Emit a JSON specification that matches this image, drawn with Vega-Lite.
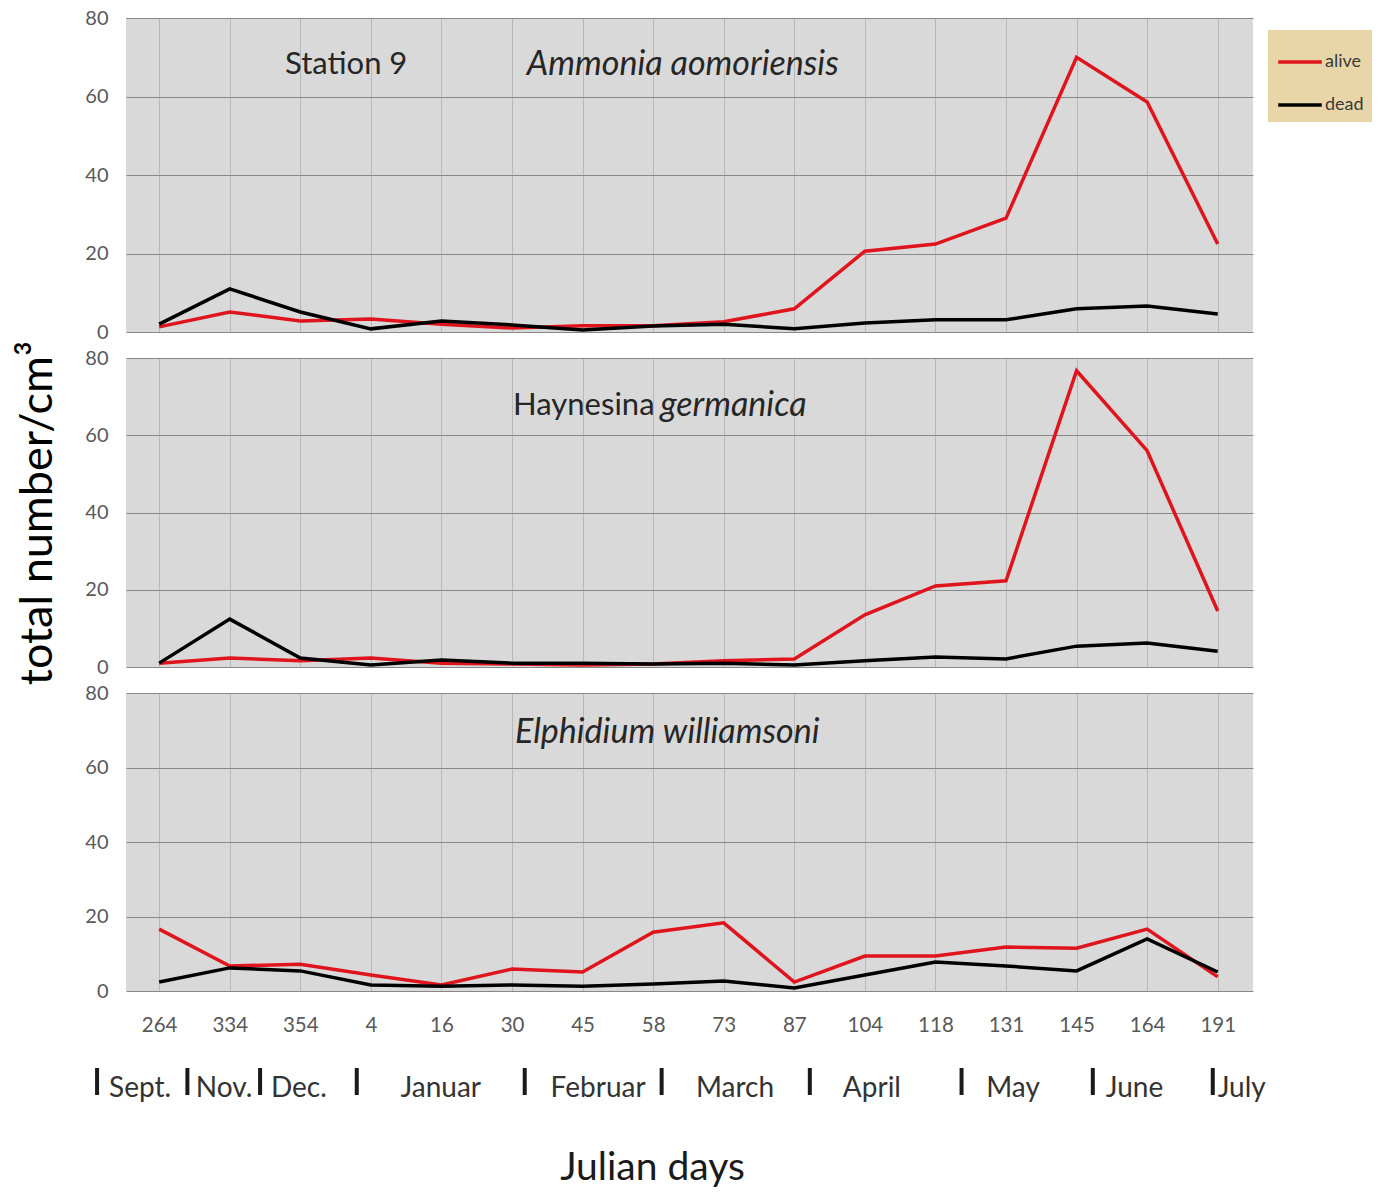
{
  "$schema": "https://vega.github.io/schema/vega-lite/v6.json",
  "background": "white",
  "padding": {"left": 15, "top": 8, "right": 5, "bottom": 5},
  "config": {
    "font": "Lato",
    "view": {"stroke": null},
    "axis": {"labelFont": "Lato", "titleFont": "Lato"}
  },
  "datasets": {
    "counts": [
      {"panel": "A", "i": 0, "day": "264", "status": "alive", "n": 1.3},
      {"panel": "A", "i": 1, "day": "334", "status": "alive", "n": 5.1},
      {"panel": "A", "i": 2, "day": "354", "status": "alive", "n": 2.8},
      {"panel": "A", "i": 3, "day": "4", "status": "alive", "n": 3.3},
      {"panel": "A", "i": 4, "day": "16", "status": "alive", "n": 2.0},
      {"panel": "A", "i": 5, "day": "30", "status": "alive", "n": 1.0},
      {"panel": "A", "i": 6, "day": "45", "status": "alive", "n": 1.6},
      {"panel": "A", "i": 7, "day": "58", "status": "alive", "n": 1.6},
      {"panel": "A", "i": 8, "day": "73", "status": "alive", "n": 2.6},
      {"panel": "A", "i": 9, "day": "87", "status": "alive", "n": 5.9},
      {"panel": "A", "i": 10, "day": "104", "status": "alive", "n": 20.6},
      {"panel": "A", "i": 11, "day": "118", "status": "alive", "n": 22.4},
      {"panel": "A", "i": 12, "day": "131", "status": "alive", "n": 29.0},
      {"panel": "A", "i": 13, "day": "145", "status": "alive", "n": 70.0},
      {"panel": "A", "i": 14, "day": "164", "status": "alive", "n": 58.6},
      {"panel": "A", "i": 15, "day": "191", "status": "alive", "n": 22.4},
      {"panel": "A", "i": 0, "day": "264", "status": "dead", "n": 2.0},
      {"panel": "A", "i": 1, "day": "334", "status": "dead", "n": 11.0},
      {"panel": "A", "i": 2, "day": "354", "status": "dead", "n": 5.1},
      {"panel": "A", "i": 3, "day": "4", "status": "dead", "n": 0.8},
      {"panel": "A", "i": 4, "day": "16", "status": "dead", "n": 2.8},
      {"panel": "A", "i": 5, "day": "30", "status": "dead", "n": 1.8},
      {"panel": "A", "i": 6, "day": "45", "status": "dead", "n": 0.5},
      {"panel": "A", "i": 7, "day": "58", "status": "dead", "n": 1.5},
      {"panel": "A", "i": 8, "day": "73", "status": "dead", "n": 2.0},
      {"panel": "A", "i": 9, "day": "87", "status": "dead", "n": 0.8},
      {"panel": "A", "i": 10, "day": "104", "status": "dead", "n": 2.3},
      {"panel": "A", "i": 11, "day": "118", "status": "dead", "n": 3.1},
      {"panel": "A", "i": 12, "day": "131", "status": "dead", "n": 3.1},
      {"panel": "A", "i": 13, "day": "145", "status": "dead", "n": 5.9},
      {"panel": "A", "i": 14, "day": "164", "status": "dead", "n": 6.6},
      {"panel": "A", "i": 15, "day": "191", "status": "dead", "n": 4.6},
      {"panel": "H", "i": 0, "day": "264", "status": "alive", "n": 1.0},
      {"panel": "H", "i": 1, "day": "334", "status": "alive", "n": 2.3},
      {"panel": "H", "i": 2, "day": "354", "status": "alive", "n": 1.6},
      {"panel": "H", "i": 3, "day": "4", "status": "alive", "n": 2.3},
      {"panel": "H", "i": 4, "day": "16", "status": "alive", "n": 1.0},
      {"panel": "H", "i": 5, "day": "30", "status": "alive", "n": 0.8},
      {"panel": "H", "i": 6, "day": "45", "status": "alive", "n": 0.5},
      {"panel": "H", "i": 7, "day": "58", "status": "alive", "n": 0.8},
      {"panel": "H", "i": 8, "day": "73", "status": "alive", "n": 1.6},
      {"panel": "H", "i": 9, "day": "87", "status": "alive", "n": 2.1},
      {"panel": "H", "i": 10, "day": "104", "status": "alive", "n": 13.5},
      {"panel": "H", "i": 11, "day": "118", "status": "alive", "n": 21.0},
      {"panel": "H", "i": 12, "day": "131", "status": "alive", "n": 22.3},
      {"panel": "H", "i": 13, "day": "145", "status": "alive", "n": 76.7},
      {"panel": "H", "i": 14, "day": "164", "status": "alive", "n": 56.0},
      {"panel": "H", "i": 15, "day": "191", "status": "alive", "n": 14.5},
      {"panel": "H", "i": 0, "day": "264", "status": "dead", "n": 1.0},
      {"panel": "H", "i": 1, "day": "334", "status": "dead", "n": 12.4},
      {"panel": "H", "i": 2, "day": "354", "status": "dead", "n": 2.3},
      {"panel": "H", "i": 3, "day": "4", "status": "dead", "n": 0.5},
      {"panel": "H", "i": 4, "day": "16", "status": "dead", "n": 1.8},
      {"panel": "H", "i": 5, "day": "30", "status": "dead", "n": 1.0},
      {"panel": "H", "i": 6, "day": "45", "status": "dead", "n": 1.0},
      {"panel": "H", "i": 7, "day": "58", "status": "dead", "n": 0.8},
      {"panel": "H", "i": 8, "day": "73", "status": "dead", "n": 1.0},
      {"panel": "H", "i": 9, "day": "87", "status": "dead", "n": 0.5},
      {"panel": "H", "i": 10, "day": "104", "status": "dead", "n": 1.6},
      {"panel": "H", "i": 11, "day": "118", "status": "dead", "n": 2.6},
      {"panel": "H", "i": 12, "day": "131", "status": "dead", "n": 2.1},
      {"panel": "H", "i": 13, "day": "145", "status": "dead", "n": 5.4},
      {"panel": "H", "i": 14, "day": "164", "status": "dead", "n": 6.2},
      {"panel": "H", "i": 15, "day": "191", "status": "dead", "n": 4.1},
      {"panel": "E", "i": 0, "day": "264", "status": "alive", "n": 16.6},
      {"panel": "E", "i": 1, "day": "334", "status": "alive", "n": 6.7},
      {"panel": "E", "i": 2, "day": "354", "status": "alive", "n": 7.2},
      {"panel": "E", "i": 3, "day": "4", "status": "alive", "n": 4.3},
      {"panel": "E", "i": 4, "day": "16", "status": "alive", "n": 1.6},
      {"panel": "E", "i": 5, "day": "30", "status": "alive", "n": 5.9},
      {"panel": "E", "i": 6, "day": "45", "status": "alive", "n": 5.1},
      {"panel": "E", "i": 7, "day": "58", "status": "alive", "n": 15.8},
      {"panel": "E", "i": 8, "day": "73", "status": "alive", "n": 18.3},
      {"panel": "E", "i": 9, "day": "87", "status": "alive", "n": 2.4},
      {"panel": "E", "i": 10, "day": "104", "status": "alive", "n": 9.4},
      {"panel": "E", "i": 11, "day": "118", "status": "alive", "n": 9.4},
      {"panel": "E", "i": 12, "day": "131", "status": "alive", "n": 11.8},
      {"panel": "E", "i": 13, "day": "145", "status": "alive", "n": 11.5},
      {"panel": "E", "i": 14, "day": "164", "status": "alive", "n": 16.6},
      {"panel": "E", "i": 15, "day": "191", "status": "alive", "n": 3.8},
      {"panel": "E", "i": 0, "day": "264", "status": "dead", "n": 2.4},
      {"panel": "E", "i": 1, "day": "334", "status": "dead", "n": 6.2},
      {"panel": "E", "i": 2, "day": "354", "status": "dead", "n": 5.4},
      {"panel": "E", "i": 3, "day": "4", "status": "dead", "n": 1.6},
      {"panel": "E", "i": 4, "day": "16", "status": "dead", "n": 1.3},
      {"panel": "E", "i": 5, "day": "30", "status": "dead", "n": 1.6},
      {"panel": "E", "i": 6, "day": "45", "status": "dead", "n": 1.3},
      {"panel": "E", "i": 7, "day": "58", "status": "dead", "n": 1.9},
      {"panel": "E", "i": 8, "day": "73", "status": "dead", "n": 2.7},
      {"panel": "E", "i": 9, "day": "87", "status": "dead", "n": 0.8},
      {"panel": "E", "i": 10, "day": "104", "status": "dead", "n": 4.3},
      {"panel": "E", "i": 11, "day": "118", "status": "dead", "n": 7.8},
      {"panel": "E", "i": 12, "day": "131", "status": "dead", "n": 6.7},
      {"panel": "E", "i": 13, "day": "145", "status": "dead", "n": 5.4},
      {"panel": "E", "i": 14, "day": "164", "status": "dead", "n": 14.0},
      {"panel": "E", "i": 15, "day": "191", "status": "dead", "n": 5.1}
    ],
    "months": [
      {"month": "Sept.", "mid": -0.27, "bar": -0.88},
      {"month": "Nov.", "mid": 0.92, "bar": 0.40},
      {"month": "Dec.", "mid": 1.98, "bar": 1.43},
      {"month": "Januar", "mid": 3.99, "bar": 2.80},
      {"month": "Februar", "mid": 6.22, "bar": 5.18},
      {"month": "March", "mid": 8.16, "bar": 7.12},
      {"month": "April", "mid": 10.1, "bar": 9.22},
      {"month": "May", "mid": 12.1, "bar": 11.37},
      {"month": "June", "mid": 13.82, "bar": 13.23},
      {"month": "July", "mid": 15.34, "bar": 14.93}
    ]
  },
  "bounds": "flush",
  "spacing": 26,
  "resolve": {"scale": {"x": "independent", "y": "independent"}},
  "vconcat": [
    {
      "width": 1127,
      "height": 314,
      "view": {"fill": "#D9D9D9", "stroke": null},
      "layer": [
        {
          "data": {"name": "counts"},
          "transform": [{"filter": "datum.panel == 'A'"}],
          "mark": {"type": "line", "strokeWidth": 3.5},
          "encoding": {
            "x": {"field": "i", "type": "quantitative", "scale": {"domain": [-0.47, 15.5], "nice": false, "zero": false},
              "axis": {"values": [0,0.5,1,1.5,2,2.5,3,3.5,4,4.5,5,5.5,6,6.5,7,7.5,8,8.5,9,9.5,10,10.5,11,11.5,12,12.5,13,13.5,14,14.5,15,15.5],
                "labels": false, "ticks": false, "domain": false, "title": null, "gridColor": "#B8B8B8", "gridWidth": 1}},
            "y": {"field": "n", "type": "quantitative", "scale": {"domain": [0, 80], "nice": false},
              "axis": {"values": [0, 20, 40, 60, 80], "ticks": false, "domain": false, "title": null, "labelFontSize": 20, "labelColor": "#595959", "labelPadding": 18, "gridColor": "#888888", "gridWidth": 1.2}},
            "color": {"field": "status", "type": "nominal", "scale": {"domain": ["alive", "dead"], "range": ["#E0141C", "#000000"]},
              "legend": {"orient": "none", "legendX": 1142, "legendY": 12, "title": null, "fillColor": "#E9D6A8", "padding": 8, "symbolType": "stroke", "symbolStrokeWidth": 3.5, "symbolSize": 1900, "labelFontSize": 18, "labelColor": "#3a3a3a", "labelOffset": 1, "rowPadding": 10}},
            "detail": {"field": "status"}
          }
        },
        {
          "data": {"values": [{}]},
          "mark": {"type": "text", "fontSize": 31, "color": "#262626", "align": "center", "baseline": "middle"},
          "encoding": {"x": {"datum": 2.65, "type": "quantitative"}, "y": {"datum": 68, "type": "quantitative"}, "text": {"value": "Station 9"}}
        },
        {
          "data": {"values": [{}]},
          "mark": {"type": "text", "fontSize": 34, "fontStyle": "italic", "color": "#262626", "align": "center", "baseline": "middle"},
          "encoding": {"x": {"datum": 7.42, "type": "quantitative"}, "y": {"datum": 68, "type": "quantitative"}, "text": {"value": "Ammonia aomoriensis"}}
        }
      ]
    },
    {
      "width": 1127,
      "height": 309,
      "view": {"fill": "#D9D9D9", "stroke": null},
      "layer": [
        {
          "data": {"name": "counts"},
          "transform": [{"filter": "datum.panel == 'H'"}],
          "mark": {"type": "line", "strokeWidth": 3.5},
          "encoding": {
            "x": {"field": "i", "type": "quantitative", "scale": {"domain": [-0.47, 15.5], "nice": false, "zero": false},
              "axis": {"values": [0,0.5,1,1.5,2,2.5,3,3.5,4,4.5,5,5.5,6,6.5,7,7.5,8,8.5,9,9.5,10,10.5,11,11.5,12,12.5,13,13.5,14,14.5,15,15.5],
                "labels": false, "ticks": false, "domain": false, "title": null, "gridColor": "#B8B8B8", "gridWidth": 1}},
            "y": {"field": "n", "type": "quantitative", "scale": {"domain": [0, 80], "nice": false},
              "axis": {"values": [0, 20, 40, 60, 80], "ticks": false, "domain": false, "title": "total number/cm³", "titleFontSize": 45, "titleFontWeight": "normal", "titleColor": "#000000", "titlePadding": 24, "labelFontSize": 20, "labelColor": "#595959", "labelPadding": 18, "gridColor": "#888888", "gridWidth": 1.2}},
            "color": {"field": "status", "type": "nominal", "scale": {"domain": ["alive", "dead"], "range": ["#E0141C", "#000000"]}, "legend": null},
            "detail": {"field": "status"}
          }
        },
        {
          "data": {"values": [{}]},
          "mark": {"type": "text", "fontSize": 31, "color": "#262626", "align": "right", "baseline": "middle"},
          "encoding": {"x": {"datum": 7.02, "type": "quantitative"}, "y": {"datum": 67.6, "type": "quantitative"}, "text": {"value": "Haynesina"}}
        },
        {
          "data": {"values": [{}]},
          "mark": {"type": "text", "fontSize": 34, "fontStyle": "italic", "color": "#262626", "align": "left", "baseline": "middle"},
          "encoding": {"x": {"datum": 7.1, "type": "quantitative"}, "y": {"datum": 67.6, "type": "quantitative"}, "text": {"value": "germanica"}}
        }
      ]
    },
    {
      "width": 1127,
      "height": 298,
      "view": {"fill": "#D9D9D9", "stroke": null},
      "layer": [
        {
          "data": {"name": "counts"},
          "transform": [{"filter": "datum.panel == 'E'"}],
          "mark": {"type": "line", "strokeWidth": 3.5},
          "encoding": {
            "x": {"field": "i", "type": "quantitative", "scale": {"domain": [-0.47, 15.5], "nice": false, "zero": false},
              "axis": {"values": [0,0.5,1,1.5,2,2.5,3,3.5,4,4.5,5,5.5,6,6.5,7,7.5,8,8.5,9,9.5,10,10.5,11,11.5,12,12.5,13,13.5,14,14.5,15,15.5],
                "labelExpr": "datum.value % 1 == 0 ? ['264','334','354','4','16','30','45','58','73','87','104','118','131','145','164','191'][datum.value] : ''",
                "labelFontSize": 20.5, "labelColor": "#595959", "labelPadding": 24, "labelFlush": false, "labelOverlap": false,
                "ticks": false, "domain": false, "title": null, "gridColor": "#B8B8B8", "gridWidth": 1}},
            "y": {"field": "n", "type": "quantitative", "scale": {"domain": [0, 80], "nice": false},
              "axis": {"values": [0, 20, 40, 60, 80], "ticks": false, "domain": false, "title": null, "labelFontSize": 20, "labelColor": "#595959", "labelPadding": 18, "gridColor": "#888888", "gridWidth": 1.2}},
            "color": {"field": "status", "type": "nominal", "scale": {"domain": ["alive", "dead"], "range": ["#E0141C", "#000000"]}, "legend": null},
            "detail": {"field": "status"}
          }
        },
        {
          "data": {"values": [{}]},
          "mark": {"type": "text", "fontSize": 34, "fontStyle": "italic", "color": "#262626", "align": "center", "baseline": "middle"},
          "encoding": {"x": {"datum": 7.2, "type": "quantitative"}, "y": {"datum": 69.3, "type": "quantitative"}, "text": {"value": "Elphidium williamsoni"}}
        }
      ]
    },
    {
      "width": 1127,
      "height": 85,
      "data": {"name": "months"},
      "view": {"fill": null, "stroke": null},
      "layer": [
        {
          "mark": {"type": "rule", "strokeWidth": 4, "color": "#1a1a1a", "clip": false},
          "encoding": {
            "x": {"field": "bar", "type": "quantitative", "scale": {"domain": [-0.47, 15.5], "nice": false, "zero": false},
              "axis": {"labels": false, "ticks": false, "domain": false, "grid": false, "title": "Julian days", "titleFontSize": 39, "titleFontWeight": "normal", "titleColor": "#1a1a1a", "titlePadding": 46, "titleX": 526, "titleAlign": "center", "titleAnchor": null}},
            "y": {"datum": 0.4, "type": "quantitative", "scale": {"domain": [0, 1], "nice": false}, "axis": null},
            "y2": {"datum": 0.082}
          }
        },
        {
          "mark": {"type": "text", "fontSize": 28, "color": "#333333", "align": "center", "baseline": "alphabetic", "clip": false},
          "encoding": {
            "x": {"field": "mid", "type": "quantitative", "scale": {"domain": [-0.47, 15.5], "nice": false, "zero": false}},
            "y": {"datum": 0.059, "type": "quantitative"},
            "text": {"field": "month"}
          }
        }
      ]
    }
  ]
}
